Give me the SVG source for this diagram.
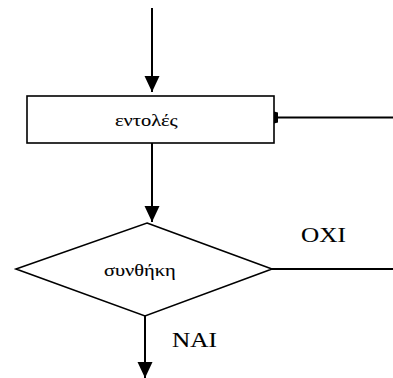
<svg xmlns="http://www.w3.org/2000/svg" width="393" height="378" viewBox="0 0 393 378">
  <defs>
    <marker id="arrow" markerUnits="userSpaceOnUse" markerWidth="16" markerHeight="16" refX="16" refY="7.5" orient="auto">
      <path d="M0,0 L16,7.5 L0,15 Z" fill="#000"/>
    </marker>
    <marker id="stub" markerUnits="userSpaceOnUse" markerWidth="5" markerHeight="14" refX="4" refY="6" orient="auto">
      <path d="M0,1 L4,0 L4,12 L0,11 Z" fill="#000"/>
    </marker>
    <style>
      .shape { fill: #fff; stroke: #000; stroke-width: 1.6; }
      .conn { fill: none; stroke: #000; stroke-width: 2; }
      .lbl { fill: #000; stroke: #000; stroke-width: 0.12; font-family: "Liberation Serif", "DejaVu Serif", serif; }
    </style>
  </defs>
  <rect width="393" height="378" fill="#fff"/>
  <g id="connectors">
    <line class="conn" x1="152" y1="8" x2="152" y2="92" marker-end="url(#arrow)"/>
    <line class="conn" x1="152" y1="143" x2="152" y2="222" marker-end="url(#arrow)"/>
    <line class="conn" x1="145" y1="316" x2="145" y2="378" marker-end="url(#arrow)"/>
    <line class="conn" x1="393" y1="117.5" x2="274" y2="117.5" marker-end="url(#stub)"/>
    <line class="conn" x1="272" y1="269" x2="393" y2="269"/>
    <text class="lbl" transform="translate(301,242) scale(1.2,1)" font-size="21">OXI</text>
    <text class="lbl" transform="translate(172,347) scale(1.2,1)" font-size="21">NAI</text>
  </g>
  <g id="node-entoles">
    <rect class="shape" x="27" y="96" width="247" height="47"/>
    <text class="lbl" transform="translate(115,126) scale(1.2,1)" font-size="17">εντολές</text>
  </g>
  <g id="node-synthiki">
    <polygon class="shape" points="147,223 272,269 145,316 16,269"/>
    <text class="lbl" transform="translate(104,276) scale(1.2,1)" font-size="17">συνθήκη</text>
  </g>
</svg>
